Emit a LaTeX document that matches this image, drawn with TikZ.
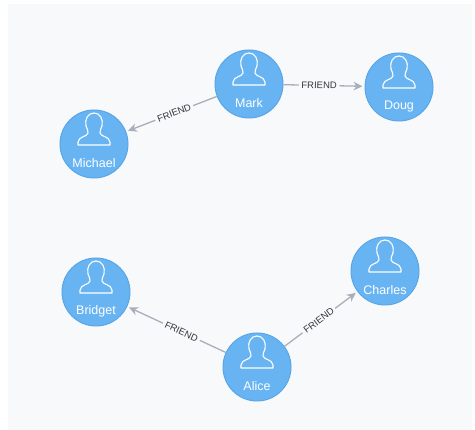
\documentclass[tikz,border=0pt]{standalone}
\usepackage{fontspec}
\setmainfont{Liberation Sans}
\usetikzlibrary{arrows.meta}
\definecolor{pagebg}{HTML}{F7F9FB}
\definecolor{nodeblue}{HTML}{68B4F3}
\definecolor{nodering}{HTML}{5AA6E6}
\definecolor{edgegray}{HTML}{A9AEB8}
\definecolor{edgetext}{HTML}{33363B}
\tikzset{
  person/.style={circle, draw=nodering, fill=nodeblue, line width=1pt, minimum size=68pt, inner sep=0pt},
  personname/.style={text=white, font=\fontsize{12.5}{14}\selectfont},
  friend/.style={->, >={Stealth[length=9pt,width=8.5pt]}, draw=edgegray, line width=1.3pt, shorten >=2pt},
  friendlabel/.style={sloped, fill=pagebg, text=edgetext, inner sep=2.5pt, font=\fontsize{9.5}{11}\selectfont},
  pics/bust/.style={code={
    \draw[white, line width=1.1pt, line join=round]
      (-16,1) -- (16,1) -- (16,-2)
      .. controls (15,-8) and (7,-7) .. (6,-11)
      .. controls (5.5,-13) and (7,-15) .. (8,-18)
      .. controls (9.5,-25) and (6,-31) .. (0,-31)
      .. controls (-6,-31) and (-9.5,-25) .. (-8,-18)
      .. controls (-7,-15) and (-5.5,-13) .. (-6,-11)
      .. controls (-7,-7) and (-15,-8) .. (-16,-2) -- cycle;
  }}
}
\begin{document}
\begin{tikzpicture}[x=1pt, y=-1pt]
    \useasboundingbox (0,0) rectangle (475,430);
    \fill[pagebg] (8,4) rectangle (472,430);

    \begin{scope}[every node/.style={person}]
      \node (mark) at (249,84) {};
      \node (doug) at (399,87) {};
      \node (michael) at (94,144) {};
      \node (bridget) at (96,292) {};
      \node (charles) at (385,271) {};
      \node (alice) at (257,367) {};
    \end{scope}

    \foreach \who/\name in {mark/Mark, doug/Doug, michael/Michael, bridget/Bridget, charles/Charles, alice/Alice} {
      \pic at (\who) {bust};
      \node [personname] (\who-name) at ([yshift=-19.5pt]\who.center) {\name};
    }

    \draw [friend] (mark) to node [friendlabel, pos=0.47] (markmichael) {FRIEND} (michael);
    \draw [friend] (mark) to node [friendlabel, pos=0.44] (markdoug) {FRIEND} (doug);
    \draw [friend] (alice) to node [friendlabel, pos=0.45] (alicebridget) {FRIEND} (bridget);
    \draw [friend] (alice) to node [friendlabel, pos=0.47] (alicecharles) {FRIEND} (charles);
\end{tikzpicture}
\end{document}
